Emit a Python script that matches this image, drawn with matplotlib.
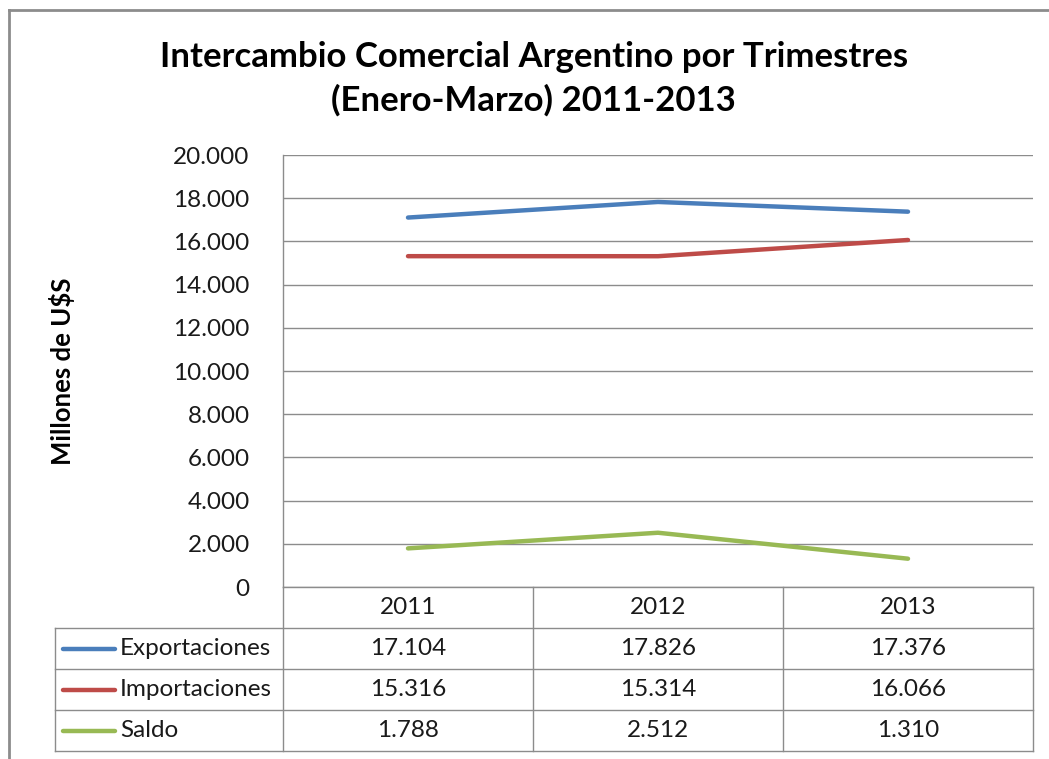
import matplotlib
matplotlib.use("Agg")
import matplotlib.pyplot as plt
from matplotlib.lines import Line2D
import matplotlib.transforms as mtransforms

years = ["2011", "2012", "2013"]
series_names = ["Exportaciones", "Importaciones", "Saldo"]
exportaciones = [17104, 17826, 17376]
importaciones = [15316, 15314, 16066]
saldo = [1788, 2512, 1310]
series_values = [exportaciones, importaciones, saldo]
colors = ["#4A7EBB", "#BE4B48", "#98B954"]
yticks = [0, 2000, 4000, 6000, 8000, 10000, 12000, 14000, 16000, 18000, 20000]

def fmt(v):
    return f"{v:,}".replace(",", ".")

plt.rcParams['font.family'] = ['Lato', 'DejaVu Sans']

W, H = 1049, 759
fig = plt.figure(figsize=(W / 100, H / 100), dpi=100)
fig.patch.set_facecolor("white")

def fx(px):
    return px / W

def fy(py):
    return 1 - py / H

FS = 17.5
TXT = "#1a1a1a"

left, right, top, bottom = 283, 1033, 155, 587
ax = fig.add_axes([fx(left), fy(bottom), fx(right - left), (bottom - top) / H])

x = list(range(len(years)))
for vals, c, name in zip(series_values, colors, series_names):
    ax.plot(x, vals, color=c, lw=3.2, solid_capstyle="round", label=name, zorder=3)

ax.set_xlim(-0.5, len(years) - 0.5)
ax.set_ylim(0, 20000)
ax.set_yticks(yticks)
ax.set_yticklabels([fmt(v) if v else "0" for v in yticks], fontsize=FS, color=TXT)
ax.set_xticks([])
ax.tick_params(axis="y", length=0, pad=24)
ax.grid(axis="y", color="#8C8C8C", lw=1.0)
ax.set_axisbelow(True)
for s in ["top", "right", "bottom"]:
    ax.spines[s].set_visible(False)
ax.spines["left"].set_color("#8C8C8C")
ax.spines["left"].set_linewidth(1.0)

# Table below the axes
gc = "#8C8C8C"
row_h = 41
rows_y = [bottom + i * row_h for i in range(5)]  # 587, 628, 669, 710, 751
tab_left = 55
fig.add_artist(Line2D([fx(left), fx(right)], [fy(rows_y[0])] * 2, color=gc, lw=1.0))
for ry in rows_y[1:]:
    fig.add_artist(Line2D([fx(tab_left), fx(right)], [fy(ry)] * 2, color=gc, lw=1.0))
blend = mtransforms.blended_transform_factory(ax.transData, fig.transFigure)
for i in range(len(years) + 1):
    xv = i - 0.5
    fig.add_artist(Line2D([xv, xv], [fy(rows_y[0]), fy(rows_y[-1])], color=gc, lw=1.0, transform=blend))
fig.add_artist(Line2D([fx(tab_left)] * 2, [fy(rows_y[1]), fy(rows_y[-1])], color=gc, lw=1.0))

for i, yr in enumerate(years):
    fig.text(i, fy((rows_y[0] + rows_y[1]) / 2), yr, transform=blend, ha="center", va="center",
             fontsize=FS, color=TXT)
for r, (name, vals, c) in enumerate(zip(series_names, series_values, colors)):
    yc = fy((rows_y[r + 1] + rows_y[r + 2]) / 2)
    fig.add_artist(Line2D([fx(63), fx(115)], [yc, yc], color=c, lw=3.2, solid_capstyle="round"))
    fig.text(fx(120), yc, name, ha="left", va="center", fontsize=FS, color=TXT)
    for i, v in enumerate(vals):
        fig.text(i, yc, fmt(v), transform=blend, ha="center", va="center", fontsize=FS, color=TXT)

# title
fig.text(fx(534), fy(57), "Intercambio Comercial Argentino por Trimestres", ha="center", va="center",
         fontsize=25, fontweight="bold", color="black")
fig.text(fx(533), fy(100), "(Enero-Marzo) 2011-2013", ha="center", va="center",
         fontsize=25, fontweight="bold", color="black")

# y label
fig.text(fx(62), fy(371), "Millones de U$S", rotation=90, ha="center", va="center",
         fontsize=18.5, fontweight="bold", color="black")

# outer chart border (top and left)
fig.add_artist(Line2D([fx(9), 1.0], [fy(10), fy(10)], color="#8C8C8C", lw=2))
fig.add_artist(Line2D([fx(9), fx(9)], [fy(10), 0.0], color="#8C8C8C", lw=2))

fig.savefig("out.png", dpi=100)
